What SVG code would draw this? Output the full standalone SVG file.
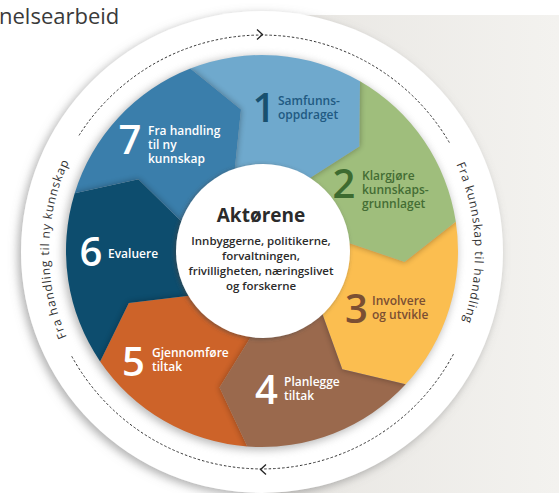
<svg xmlns="http://www.w3.org/2000/svg" xmlns:xlink="http://www.w3.org/1999/xlink" width="559" height="493" viewBox="0 0 559 493">
<style>
.num{font-family:"Open Sans","DejaVu Sans",sans-serif;font-weight:600;font-size:40px;text-anchor:middle}
.lbl{font-family:"Open Sans","DejaVu Sans",sans-serif;font-weight:600;font-size:12px}
.w{fill:#ffffff}
.arc{font-family:"Open Sans","DejaVu Sans",sans-serif;font-size:12px;fill:#333333;letter-spacing:0.85px}
.dash{fill:none;stroke:#333333;stroke-width:1;stroke-dasharray:2.5 2}
.arrow{fill:none;stroke:#222222;stroke-width:1.3}
.ctr{font-family:"Open Sans","DejaVu Sans",sans-serif;fill:#2b2b2b;text-anchor:middle}
.sh{fill:#000000;opacity:0.32;filter:url(#blur)}
</style>
<defs>
<linearGradient id="bg" x1="0" y1="0" x2="1" y2="0">
<stop offset="0" stop-color="#e8e6e2"/>
<stop offset="1" stop-color="#f3f2ef"/>
</linearGradient>
<filter id="blur" x="-20%" y="-20%" width="140%" height="140%"><feGaussianBlur stdDeviation="3"/></filter>
<filter id="outerSh" x="-10%" y="-10%" width="120%" height="120%">
<feGaussianBlur in="SourceAlpha" stdDeviation="5"/>
<feOffset dx="-3" dy="3" result="b"/>
<feFlood flood-color="#7a7a7a" flood-opacity="0.6"/>
<feComposite in2="b" operator="in"/>
<feMerge><feMergeNode/><feMergeNode in="SourceGraphic"/></feMerge>
</filter>
<filter id="ringSh" x="-10%" y="-10%" width="120%" height="120%">
<feGaussianBlur stdDeviation="4"/>
</filter>
<filter id="innerSh" x="-20%" y="-20%" width="140%" height="140%">
<feDropShadow dx="-1.5" dy="1" stdDeviation="2" flood-color="#444444" flood-opacity="0.6"/>
</filter>
<path id="seg1" d="M190.4,68.5 A196,196 0 0 1 360,81.3 L359.5,146.4 L303.2,182.4 A80,80 0 0 0 234.1,176 L241,109.5 Z"/>
<path id="seg2" d="M360,81.3 A196,196 0 0 1 455.8,221.8 L404.6,262 L341.3,240.5 A80,80 0 0 0 303.2,182.4 L359.5,146.4 Z"/>
<path id="seg3" d="M455.8,221.8 A196,196 0 0 1 405.7,384.3 L342.3,369.3 L319.7,306.4 A80,80 0 0 0 341.3,240.5 L404.6,262 Z"/>
<path id="seg4" d="M405.7,384.3 A196,196 0 0 1 247.3,446.5 L219.5,387.5 L254.6,330.7 A80,80 0 0 0 319.7,306.4 L342.3,369.3 Z"/>
<path id="seg5" d="M247.3,446.5 A196,196 0 0 1 100.1,361.4 L128.8,302.9 L195.1,294.9 A80,80 0 0 0 254.6,330.7 L219.5,387.5 Z"/>
<path id="seg6" d="M100.1,361.4 A196,196 0 0 1 74.7,193.2 L138.4,179.2 L186,226.1 A80,80 0 0 0 195.1,294.9 L128.8,302.9 Z"/>
<path id="seg7" d="M74.7,193.2 A196,196 0 0 1 190.4,68.5 L241,109.5 L234.1,176 A80,80 0 0 0 186,226.1 L138.4,179.2 Z"/>
<clipPath id="c1"><use xlink:href="#seg1"/></clipPath>
<clipPath id="c2"><use xlink:href="#seg2"/></clipPath>
<clipPath id="c3"><use xlink:href="#seg3"/></clipPath>
<clipPath id="c4"><use xlink:href="#seg4"/></clipPath>
<clipPath id="c5"><use xlink:href="#seg5"/></clipPath>
<clipPath id="c6"><use xlink:href="#seg6"/></clipPath>
<clipPath id="c7"><use xlink:href="#seg7"/></clipPath>
<path id="arcL" d="M189.15,452.15 A213,213 0 0 1 189.15,51.85"/>
<path id="arcR" d="M334.85,51.85 A213,213 0 0 1 334.85,452.15"/>
</defs>

<g id="background">
<rect x="0" y="0" width="559" height="493" fill="#ffffff"/>
<rect x="262" y="15" width="297" height="478" fill="url(#bg)"/>
<text x="-1" y="24" font-family="'Open Sans','DejaVu Sans',sans-serif" font-size="22" fill="#3a3a3a">nelsearbeid</text>
<circle cx="262" cy="252" r="241" fill="#ffffff" filter="url(#outerSh)"/>
<circle cx="260" cy="253" r="197" fill="#8a8a8a" opacity="0.6" filter="url(#ringSh)"/>
</g>

<g id="node-1">
<use xlink:href="#seg1" fill="#6fa9cd"/>
<g clip-path="url(#c1)"><use xlink:href="#seg7" class="sh"/></g>
<text class="num" x="264" y="122" fill="#18506f">1</text>
<text class="lbl" fill="#215a82"><tspan x="278" y="105">Samfunns-</tspan><tspan x="278" y="118.5">oppdraget</tspan></text>
</g>

<g id="node-2">
<use xlink:href="#seg2" fill="#9fbe7c"/>
<g clip-path="url(#c2)"><use xlink:href="#seg1" class="sh"/></g>
<text class="num" x="344" y="198" fill="#3d6b30">2</text>
<text class="lbl" fill="#446d34"><tspan x="362" y="180">Klargjøre</tspan><tspan x="362" y="194">kunnskaps-</tspan><tspan x="362" y="208">grunnlaget</tspan></text>
</g>

<g id="node-3">
<use xlink:href="#seg3" fill="#fbbe50"/>
<g clip-path="url(#c3)"><use xlink:href="#seg2" class="sh"/></g>
<text class="num" x="356.5" y="323" fill="#7b4f33">3</text>
<text class="lbl" fill="#7b4f33"><tspan x="372" y="305">Involvere</tspan><tspan x="372" y="318.5">og utvikle</tspan></text>
</g>

<g id="node-4">
<use xlink:href="#seg4" fill="#9a694d"/>
<g clip-path="url(#c4)"><use xlink:href="#seg3" class="sh"/></g>
<text class="num w" x="266.5" y="404">4</text>
<text class="lbl w"><tspan x="284" y="386">Planlegge</tspan><tspan x="284" y="400">tiltak</tspan></text>
</g>

<g id="node-5">
<use xlink:href="#seg5" fill="#cd6329"/>
<g clip-path="url(#c5)"><use xlink:href="#seg4" class="sh"/></g>
<text class="num w" x="133.5" y="376">5</text>
<text class="lbl w"><tspan x="152" y="357">Gjennomføre</tspan><tspan x="152" y="371">tiltak</tspan></text>
</g>

<g id="node-6">
<use xlink:href="#seg6" fill="#0d4d6e"/>
<g clip-path="url(#c6)"><use xlink:href="#seg5" class="sh"/></g>
<text class="num w" x="91" y="266">6</text>
<text class="lbl w" x="108" y="258">Evaluere</text>
</g>

<g id="node-7">
<use xlink:href="#seg7" fill="#3a7eab"/>
<g clip-path="url(#c7)"><use xlink:href="#seg6" class="sh"/></g>
<text class="num w" x="130" y="154">7</text>
<text class="lbl w"><tspan x="148" y="135">Fra handling</tspan><tspan x="148" y="149">til ny</tspan><tspan x="148" y="163">kunnskap</tspan></text>
</g>

<g id="center">
<circle cx="263" cy="251" r="87" fill="#ffffff" filter="url(#innerSh)"/>
<text class="ctr" x="261" y="222" font-size="19" font-weight="700">Aktørene</text>
<text class="ctr" font-size="11.5" font-weight="600"><tspan x="261" y="245">Innbyggerne, politikerne,</tspan><tspan x="261" y="260">forvaltningen,</tspan><tspan x="261" y="275">frivilligheten, næringslivet</tspan><tspan x="261" y="290">og forskerne</tspan></text>
</g>

<g id="connectors">
<path class="dash" d="M79,135.4 A217,217 0 0 1 450.3,144.2"/>
<path class="dash" d="M453.4,354.2 A217,217 0 0 1 71.7,356.2"/>
<path class="arrow" d="M257,29.5 L262.5,34.5 L257,39.5"/>
<path class="arrow" d="M266,464.5 L260.5,469.5 L266,474.5"/>
<text class="arc"><textPath xlink:href="#arcL" startOffset="50.6%" text-anchor="middle">Fra handling til ny kunnskap</textPath></text>
<text class="arc"><textPath xlink:href="#arcR" startOffset="48.2%" text-anchor="middle">Fra kunnskap til handling</textPath></text>
</g>
</svg>
